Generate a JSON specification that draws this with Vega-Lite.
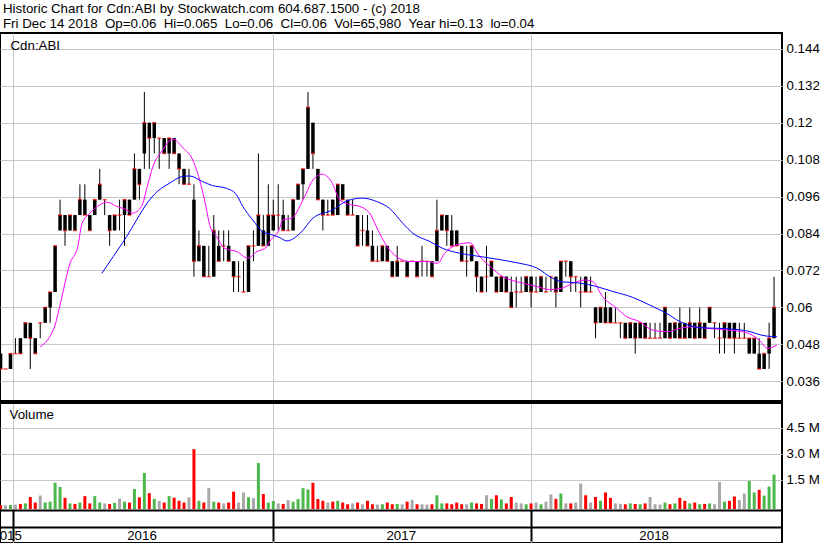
{
  "$schema": "https://vega.github.io/schema/vega-lite/v6.json",
  "width": 782,
  "height": 510,
  "autosize": {"type": "none"},
  "padding": {"left": 0, "top": 33, "right": 48, "bottom": 0},
  "background": "white",
  "title": {
    "text": ["Historic Chart for Cdn:ABI by Stockwatch.com 604.687.1500 - (c) 2018", "Fri Dec 14 2018 \u00a0Op=0.06 \u00a0Hi=0.065 \u00a0Lo=0.06 \u00a0Cl=0.06 \u00a0Vol=65,980 \u00a0Year hi=0.13 \u00a0lo=0.04"],
    "anchor": "start",
    "frame": "group",
    "font": "Liberation Sans",
    "fontSize": 13.3,
    "fontWeight": "normal",
    "lineHeight": 14.5,
    "color": "black",
    "offset": 3,
    "dx": 3
  },
  "config": {
    "view": {"stroke": "black", "strokeWidth": 2},
    "font": "Liberation Sans",
    "axis": {"labelFont": "Liberation Sans", "labelFontSize": 13.3, "labelColor": "black", "titleFont": "Liberation Sans", "titleFontSize": 13.3, "titleFontWeight": "normal", "titleColor": "black"}
  },
  "datasets": {
    "p": [
      {"d":"2015-12-14","o":0.045,"h":0.05,"l":0.04,"c":0.04,"v":50000},
      {"d":"2015-12-21","o":0.04,"h":0.04,"l":0.04,"c":0.04,"v":40000},
      {"d":"2015-12-28","o":0.04,"h":0.045,"l":0.04,"c":0.045,"v":60000},
      {"d":"2016-01-04","o":0.045,"h":0.05,"l":0.045,"c":0.045,"v":80000},
      {"d":"2016-01-11","o":0.05,"h":0.05,"l":0.045,"c":0.045,"v":120000},
      {"d":"2016-01-18","o":0.05,"h":0.055,"l":0.05,"c":0.055,"v":150000},
      {"d":"2016-01-25","o":0.055,"h":0.055,"l":0.04,"c":0.05,"v":520000},
      {"d":"2016-02-01","o":0.05,"h":0.05,"l":0.045,"c":0.045,"v":200000},
      {"d":"2016-02-08","o":0.055,"h":0.055,"l":0.05,"c":0.055,"v":600000},
      {"d":"2016-02-15","o":0.055,"h":0.06,"l":0.055,"c":0.06,"v":200000},
      {"d":"2016-02-22","o":0.06,"h":0.065,"l":0.055,"c":0.065,"v":250000},
      {"d":"2016-02-29","o":0.065,"h":0.08,"l":0.065,"c":0.08,"v":1340000},
      {"d":"2016-03-07","o":0.085,"h":0.095,"l":0.085,"c":0.09,"v":1100000},
      {"d":"2016-03-14","o":0.09,"h":0.09,"l":0.08,"c":0.085,"v":470000},
      {"d":"2016-03-21","o":0.085,"h":0.09,"l":0.085,"c":0.09,"v":150000},
      {"d":"2016-03-28","o":0.09,"h":0.09,"l":0.085,"c":0.085,"v":120000},
      {"d":"2016-04-04","o":0.09,"h":0.1,"l":0.09,"c":0.095,"v":200000},
      {"d":"2016-04-11","o":0.095,"h":0.1,"l":0.09,"c":0.09,"v":570000},
      {"d":"2016-04-18","o":0.09,"h":0.09,"l":0.085,"c":0.085,"v":150000},
      {"d":"2016-04-25","o":0.09,"h":0.095,"l":0.09,"c":0.095,"v":570000},
      {"d":"2016-05-02","o":0.095,"h":0.105,"l":0.095,"c":0.1,"v":200000},
      {"d":"2016-05-09","o":0.095,"h":0.095,"l":0.09,"c":0.095,"v":150000},
      {"d":"2016-05-16","o":0.09,"h":0.09,"l":0.08,"c":0.085,"v":120000},
      {"d":"2016-05-23","o":0.085,"h":0.09,"l":0.085,"c":0.09,"v":180000},
      {"d":"2016-05-30","o":0.09,"h":0.095,"l":0.085,"c":0.09,"v":430000},
      {"d":"2016-06-06","o":0.09,"h":0.095,"l":0.08,"c":0.095,"v":250000},
      {"d":"2016-06-13","o":0.095,"h":0.095,"l":0.09,"c":0.09,"v":200000},
      {"d":"2016-06-20","o":0.095,"h":0.11,"l":0.095,"c":0.105,"v":980000},
      {"d":"2016-06-27","o":0.105,"h":0.105,"l":0.095,"c":0.1,"v":500000},
      {"d":"2016-07-04","o":0.11,"h":0.13,"l":0.105,"c":0.12,"v":1910000},
      {"d":"2016-07-11","o":0.12,"h":0.12,"l":0.105,"c":0.115,"v":740000},
      {"d":"2016-07-18","o":0.115,"h":0.12,"l":0.11,"c":0.12,"v":410000},
      {"d":"2016-07-25","o":0.115,"h":0.115,"l":0.105,"c":0.115,"v":300000},
      {"d":"2016-08-01","o":0.115,"h":0.115,"l":0.11,"c":0.11,"v":200000},
      {"d":"2016-08-08","o":0.11,"h":0.115,"l":0.105,"c":0.115,"v":570000},
      {"d":"2016-08-15","o":0.115,"h":0.115,"l":0.11,"c":0.11,"v":480000},
      {"d":"2016-08-22","o":0.11,"h":0.11,"l":0.1,"c":0.105,"v":300000},
      {"d":"2016-08-29","o":0.105,"h":0.105,"l":0.1,"c":0.1,"v":200000},
      {"d":"2016-09-05","o":0.1,"h":0.105,"l":0.1,"c":0.1,"v":500000},
      {"d":"2016-09-12","o":0.095,"h":0.1,"l":0.07,"c":0.075,"v":3280000},
      {"d":"2016-09-19","o":0.075,"h":0.085,"l":0.075,"c":0.08,"v":300000},
      {"d":"2016-09-26","o":0.08,"h":0.08,"l":0.07,"c":0.07,"v":200000},
      {"d":"2016-10-03","o":0.07,"h":0.08,"l":0.07,"c":0.07,"v":1030000},
      {"d":"2016-10-10","o":0.07,"h":0.09,"l":0.07,"c":0.085,"v":250000},
      {"d":"2016-10-17","o":0.08,"h":0.085,"l":0.075,"c":0.075,"v":200000},
      {"d":"2016-10-24","o":0.08,"h":0.085,"l":0.075,"c":0.08,"v":150000},
      {"d":"2016-10-31","o":0.08,"h":0.085,"l":0.075,"c":0.075,"v":200000},
      {"d":"2016-11-07","o":0.075,"h":0.075,"l":0.065,"c":0.07,"v":830000},
      {"d":"2016-11-14","o":0.07,"h":0.075,"l":0.065,"c":0.07,"v":200000},
      {"d":"2016-11-21","o":0.065,"h":0.075,"l":0.065,"c":0.065,"v":780000},
      {"d":"2016-11-28","o":0.065,"h":0.08,"l":0.065,"c":0.08,"v":500000},
      {"d":"2016-12-05","o":0.08,"h":0.085,"l":0.075,"c":0.08,"v":450000},
      {"d":"2016-12-12","o":0.08,"h":0.11,"l":0.08,"c":0.09,"v":2480000},
      {"d":"2016-12-19","o":0.085,"h":0.09,"l":0.08,"c":0.08,"v":690000},
      {"d":"2016-12-26","o":0.08,"h":0.1,"l":0.08,"c":0.09,"v":200000},
      {"d":"2017-01-02","o":0.085,"h":0.095,"l":0.085,"c":0.09,"v":290000},
      {"d":"2017-01-09","o":0.09,"h":0.1,"l":0.085,"c":0.09,"v":150000},
      {"d":"2017-01-16","o":0.09,"h":0.095,"l":0.085,"c":0.085,"v":120000},
      {"d":"2017-01-23","o":0.085,"h":0.09,"l":0.085,"c":0.085,"v":340000},
      {"d":"2017-01-30","o":0.085,"h":0.095,"l":0.085,"c":0.095,"v":250000},
      {"d":"2017-02-06","o":0.095,"h":0.1,"l":0.095,"c":0.1,"v":400000},
      {"d":"2017-02-13","o":0.1,"h":0.105,"l":0.095,"c":0.105,"v":1030000},
      {"d":"2017-02-20","o":0.105,"h":0.13,"l":0.105,"c":0.125,"v":950000},
      {"d":"2017-02-27","o":0.12,"h":0.12,"l":0.105,"c":0.11,"v":1340000},
      {"d":"2017-03-06","o":0.105,"h":0.105,"l":0.095,"c":0.095,"v":400000},
      {"d":"2017-03-13","o":0.095,"h":0.095,"l":0.085,"c":0.09,"v":300000},
      {"d":"2017-03-20","o":0.09,"h":0.095,"l":0.09,"c":0.09,"v":200000},
      {"d":"2017-03-27","o":0.095,"h":0.095,"l":0.09,"c":0.09,"v":250000},
      {"d":"2017-04-03","o":0.09,"h":0.1,"l":0.09,"c":0.1,"v":300000},
      {"d":"2017-04-10","o":0.1,"h":0.1,"l":0.095,"c":0.095,"v":200000},
      {"d":"2017-04-17","o":0.095,"h":0.095,"l":0.09,"c":0.09,"v":100000},
      {"d":"2017-04-24","o":0.09,"h":0.095,"l":0.09,"c":0.09,"v":150000},
      {"d":"2017-05-01","o":0.09,"h":0.09,"l":0.08,"c":0.08,"v":200000},
      {"d":"2017-05-08","o":0.085,"h":0.09,"l":0.08,"c":0.085,"v":100000},
      {"d":"2017-05-15","o":0.085,"h":0.09,"l":0.08,"c":0.08,"v":300000},
      {"d":"2017-05-22","o":0.08,"h":0.085,"l":0.075,"c":0.075,"v":100000},
      {"d":"2017-05-29","o":0.075,"h":0.08,"l":0.075,"c":0.075,"v":80000},
      {"d":"2017-06-05","o":0.075,"h":0.08,"l":0.075,"c":0.08,"v":100000},
      {"d":"2017-06-12","o":0.08,"h":0.08,"l":0.075,"c":0.075,"v":200000},
      {"d":"2017-06-19","o":0.075,"h":0.075,"l":0.07,"c":0.07,"v":100000},
      {"d":"2017-06-26","o":0.07,"h":0.08,"l":0.07,"c":0.075,"v":120000},
      {"d":"2017-07-03","o":0.075,"h":0.075,"l":0.075,"c":0.075,"v":100000},
      {"d":"2017-07-10","o":0.075,"h":0.075,"l":0.07,"c":0.07,"v":250000},
      {"d":"2017-07-17","o":0.075,"h":0.075,"l":0.075,"c":0.075,"v":360000},
      {"d":"2017-07-24","o":0.075,"h":0.075,"l":0.07,"c":0.07,"v":100000},
      {"d":"2017-07-31","o":0.075,"h":0.08,"l":0.07,"c":0.075,"v":100000},
      {"d":"2017-08-07","o":0.075,"h":0.075,"l":0.07,"c":0.075,"v":80000},
      {"d":"2017-08-14","o":0.075,"h":0.075,"l":0.07,"c":0.07,"v":100000},
      {"d":"2017-08-21","o":0.075,"h":0.095,"l":0.075,"c":0.085,"v":620000},
      {"d":"2017-08-28","o":0.085,"h":0.09,"l":0.085,"c":0.09,"v":150000},
      {"d":"2017-09-04","o":0.09,"h":0.09,"l":0.08,"c":0.085,"v":150000},
      {"d":"2017-09-11","o":0.085,"h":0.09,"l":0.08,"c":0.08,"v":100000},
      {"d":"2017-09-18","o":0.085,"h":0.085,"l":0.08,"c":0.08,"v":200000},
      {"d":"2017-09-25","o":0.08,"h":0.08,"l":0.075,"c":0.075,"v":100000},
      {"d":"2017-10-02","o":0.075,"h":0.08,"l":0.07,"c":0.075,"v":100000},
      {"d":"2017-10-09","o":0.075,"h":0.08,"l":0.075,"c":0.08,"v":200000},
      {"d":"2017-10-16","o":0.075,"h":0.075,"l":0.065,"c":0.07,"v":150000},
      {"d":"2017-10-23","o":0.07,"h":0.07,"l":0.065,"c":0.065,"v":120000},
      {"d":"2017-10-30","o":0.07,"h":0.08,"l":0.065,"c":0.07,"v":620000},
      {"d":"2017-11-06","o":0.07,"h":0.075,"l":0.07,"c":0.075,"v":410000},
      {"d":"2017-11-13","o":0.07,"h":0.07,"l":0.065,"c":0.065,"v":620000},
      {"d":"2017-11-20","o":0.065,"h":0.07,"l":0.065,"c":0.07,"v":380000},
      {"d":"2017-11-27","o":0.07,"h":0.07,"l":0.065,"c":0.065,"v":150000},
      {"d":"2017-12-04","o":0.065,"h":0.07,"l":0.06,"c":0.06,"v":520000},
      {"d":"2017-12-11","o":0.065,"h":0.07,"l":0.06,"c":0.065,"v":200000},
      {"d":"2017-12-18","o":0.065,"h":0.07,"l":0.065,"c":0.065,"v":150000},
      {"d":"2017-12-25","o":0.065,"h":0.07,"l":0.065,"c":0.07,"v":100000},
      {"d":"2018-01-01","o":0.07,"h":0.07,"l":0.06,"c":0.065,"v":150000},
      {"d":"2018-01-08","o":0.065,"h":0.07,"l":0.065,"c":0.065,"v":200000},
      {"d":"2018-01-15","o":0.065,"h":0.07,"l":0.065,"c":0.07,"v":100000},
      {"d":"2018-01-22","o":0.065,"h":0.07,"l":0.065,"c":0.065,"v":250000},
      {"d":"2018-01-29","o":0.07,"h":0.07,"l":0.065,"c":0.07,"v":670000},
      {"d":"2018-02-05","o":0.07,"h":0.07,"l":0.06,"c":0.065,"v":410000},
      {"d":"2018-02-12","o":0.065,"h":0.075,"l":0.065,"c":0.075,"v":720000},
      {"d":"2018-02-19","o":0.075,"h":0.075,"l":0.07,"c":0.075,"v":150000},
      {"d":"2018-02-26","o":0.075,"h":0.075,"l":0.065,"c":0.07,"v":150000},
      {"d":"2018-03-05","o":0.07,"h":0.07,"l":0.065,"c":0.07,"v":200000},
      {"d":"2018-03-12","o":0.065,"h":0.07,"l":0.06,"c":0.065,"v":1290000},
      {"d":"2018-03-19","o":0.07,"h":0.07,"l":0.065,"c":0.065,"v":620000},
      {"d":"2018-03-26","o":0.065,"h":0.07,"l":0.065,"c":0.065,"v":200000},
      {"d":"2018-04-02","o":0.06,"h":0.06,"l":0.05,"c":0.055,"v":520000},
      {"d":"2018-04-09","o":0.055,"h":0.06,"l":0.055,"c":0.06,"v":300000},
      {"d":"2018-04-16","o":0.06,"h":0.065,"l":0.055,"c":0.055,"v":780000},
      {"d":"2018-04-23","o":0.06,"h":0.06,"l":0.055,"c":0.055,"v":470000},
      {"d":"2018-04-30","o":0.055,"h":0.06,"l":0.055,"c":0.055,"v":150000},
      {"d":"2018-05-07","o":0.055,"h":0.055,"l":0.05,"c":0.055,"v":120000},
      {"d":"2018-05-14","o":0.055,"h":0.055,"l":0.05,"c":0.05,"v":100000},
      {"d":"2018-05-21","o":0.05,"h":0.055,"l":0.05,"c":0.055,"v":150000},
      {"d":"2018-05-28","o":0.055,"h":0.055,"l":0.045,"c":0.05,"v":120000},
      {"d":"2018-06-04","o":0.05,"h":0.055,"l":0.05,"c":0.055,"v":100000},
      {"d":"2018-06-11","o":0.055,"h":0.055,"l":0.05,"c":0.05,"v":150000},
      {"d":"2018-06-18","o":0.05,"h":0.055,"l":0.05,"c":0.05,"v":520000},
      {"d":"2018-06-25","o":0.05,"h":0.055,"l":0.05,"c":0.05,"v":100000},
      {"d":"2018-07-02","o":0.05,"h":0.055,"l":0.05,"c":0.05,"v":80000},
      {"d":"2018-07-09","o":0.05,"h":0.06,"l":0.05,"c":0.06,"v":200000},
      {"d":"2018-07-16","o":0.055,"h":0.055,"l":0.05,"c":0.05,"v":100000},
      {"d":"2018-07-23","o":0.05,"h":0.055,"l":0.05,"c":0.055,"v":150000},
      {"d":"2018-07-30","o":0.055,"h":0.06,"l":0.05,"c":0.05,"v":470000},
      {"d":"2018-08-06","o":0.055,"h":0.055,"l":0.05,"c":0.05,"v":300000},
      {"d":"2018-08-13","o":0.05,"h":0.06,"l":0.05,"c":0.055,"v":150000},
      {"d":"2018-08-20","o":0.055,"h":0.055,"l":0.05,"c":0.05,"v":200000},
      {"d":"2018-08-27","o":0.05,"h":0.06,"l":0.05,"c":0.055,"v":100000},
      {"d":"2018-09-03","o":0.055,"h":0.055,"l":0.05,"c":0.05,"v":120000},
      {"d":"2018-09-10","o":0.055,"h":0.06,"l":0.055,"c":0.06,"v":150000},
      {"d":"2018-09-17","o":0.055,"h":0.055,"l":0.05,"c":0.055,"v":100000},
      {"d":"2018-09-24","o":0.05,"h":0.055,"l":0.045,"c":0.05,"v":1380000},
      {"d":"2018-10-01","o":0.05,"h":0.055,"l":0.045,"c":0.055,"v":250000},
      {"d":"2018-10-08","o":0.055,"h":0.055,"l":0.05,"c":0.05,"v":300000},
      {"d":"2018-10-15","o":0.055,"h":0.055,"l":0.045,"c":0.05,"v":550000},
      {"d":"2018-10-22","o":0.05,"h":0.055,"l":0.05,"c":0.05,"v":350000},
      {"d":"2018-10-29","o":0.05,"h":0.055,"l":0.05,"c":0.05,"v":720000},
      {"d":"2018-11-05","o":0.045,"h":0.05,"l":0.045,"c":0.05,"v":1450000},
      {"d":"2018-11-12","o":0.045,"h":0.05,"l":0.045,"c":0.05,"v":780000},
      {"d":"2018-11-19","o":0.045,"h":0.05,"l":0.04,"c":0.04,"v":930000},
      {"d":"2018-11-26","o":0.04,"h":0.045,"l":0.04,"c":0.045,"v":600000},
      {"d":"2018-12-03","o":0.045,"h":0.055,"l":0.04,"c":0.05,"v":1120000},
      {"d":"2018-12-10","o":0.05,"h":0.07,"l":0.05,"c":0.06,"v":1810000}
    ],
    "ma": [
      {"d":"2016-02-08","s":"s","v":0.0472},{"d":"2016-02-29","s":"s","v":0.0543},{"d":"2016-03-07","s":"s","v":0.0608},
      {"d":"2016-03-21","s":"s","v":0.0743},{"d":"2016-04-01","s":"s","v":0.0797},{"d":"2016-04-07","s":"s","v":0.0873},
      {"d":"2016-04-18","s":"s","v":0.0906},{"d":"2016-05-02","s":"s","v":0.0933},{"d":"2016-05-12","s":"s","v":0.0942},
      {"d":"2016-05-26","s":"s","v":0.0928},{"d":"2016-06-09","s":"s","v":0.0917},{"d":"2016-06-17","s":"s","v":0.0906},
      {"d":"2016-06-30","s":"s","v":0.0928},{"d":"2016-07-08","s":"s","v":0.0992},{"d":"2016-07-16","s":"s","v":0.1057},
      {"d":"2016-07-30","s":"s","v":0.1112},{"d":"2016-08-13","s":"s","v":0.1147},{"d":"2016-08-28","s":"s","v":0.1117},
      {"d":"2016-09-09","s":"s","v":0.1085},{"d":"2016-09-20","s":"s","v":0.1014},{"d":"2016-09-27","s":"s","v":0.0949},
      {"d":"2016-10-05","s":"s","v":0.0862},{"d":"2016-10-14","s":"s","v":0.083},{"d":"2016-10-25","s":"s","v":0.0792},
      {"d":"2016-11-12","s":"s","v":0.0781},{"d":"2016-11-27","s":"s","v":0.076},{"d":"2016-12-10","s":"s","v":0.0781},
      {"d":"2016-12-24","s":"s","v":0.0797},{"d":"2016-12-28","s":"s","v":0.0814},{"d":"2017-01-11","s":"s","v":0.0857},
      {"d":"2017-01-15","s":"s","v":0.0884},{"d":"2017-01-28","s":"s","v":0.089},{"d":"2017-02-13","s":"s","v":0.0949},
      {"d":"2017-02-27","s":"s","v":0.1014},{"d":"2017-03-12","s":"s","v":0.1033},{"d":"2017-03-25","s":"s","v":0.1009},
      {"d":"2017-04-06","s":"s","v":0.0949},{"d":"2017-04-17","s":"s","v":0.0936},{"d":"2017-05-04","s":"s","v":0.0928},
      {"d":"2017-05-18","s":"s","v":0.0906},{"d":"2017-06-01","s":"s","v":0.0841},{"d":"2017-06-12","s":"s","v":0.0797},
      {"d":"2017-06-25","s":"s","v":0.0765},{"d":"2017-07-14","s":"s","v":0.0749},{"d":"2017-08-07","s":"s","v":0.0749},
      {"d":"2017-08-22","s":"s","v":0.0743},{"d":"2017-09-01","s":"s","v":0.0776},{"d":"2017-09-18","s":"s","v":0.0803},
      {"d":"2017-10-07","s":"s","v":0.081},{"d":"2017-10-17","s":"s","v":0.0776},{"d":"2017-11-04","s":"s","v":0.0733},
      {"d":"2017-11-22","s":"s","v":0.07},{"d":"2017-12-20","s":"s","v":0.0679},{"d":"2018-01-09","s":"s","v":0.0668},
      {"d":"2018-01-27","s":"s","v":0.0658},{"d":"2018-02-13","s":"s","v":0.0662},{"d":"2018-03-01","s":"s","v":0.0679},
      {"d":"2018-03-18","s":"s","v":0.0689},{"d":"2018-03-29","s":"s","v":0.0684},{"d":"2018-04-12","s":"s","v":0.0635},
      {"d":"2018-05-02","s":"s","v":0.0597},{"d":"2018-05-16","s":"s","v":0.057},{"d":"2018-06-03","s":"s","v":0.0554},
      {"d":"2018-06-21","s":"s","v":0.0527},{"d":"2018-07-12","s":"s","v":0.0521},{"d":"2018-07-30","s":"s","v":0.0532},
      {"d":"2018-08-17","s":"s","v":0.0537},{"d":"2018-09-06","s":"s","v":0.0532},{"d":"2018-10-04","s":"s","v":0.0527},
      {"d":"2018-11-01","s":"s","v":0.0518},{"d":"2018-11-19","s":"s","v":0.0494},{"d":"2018-12-01","s":"s","v":0.0467},
      {"d":"2018-12-14","s":"s","v":0.0478},
      {"d":"2016-05-05","s":"l","v":0.0711},{"d":"2016-05-21","s":"l","v":0.0765},{"d":"2016-06-09","s":"l","v":0.083},
      {"d":"2016-06-23","s":"l","v":0.0884},{"d":"2016-07-08","s":"l","v":0.0939},{"d":"2016-07-22","s":"l","v":0.0976},
      {"d":"2016-08-09","s":"l","v":0.1004},{"d":"2016-08-26","s":"l","v":0.1025},{"d":"2016-09-06","s":"l","v":0.1027},
      {"d":"2016-09-24","s":"l","v":0.1009},{"d":"2016-10-08","s":"l","v":0.0996},{"d":"2016-10-28","s":"l","v":0.0987},
      {"d":"2016-11-11","s":"l","v":0.0966},{"d":"2016-11-20","s":"l","v":0.0928},{"d":"2016-12-04","s":"l","v":0.0884},
      {"d":"2016-12-18","s":"l","v":0.0846},{"d":"2016-12-28","s":"l","v":0.0838},{"d":"2017-01-11","s":"l","v":0.0827},
      {"d":"2017-01-21","s":"l","v":0.0816},{"d":"2017-02-09","s":"l","v":0.0841},{"d":"2017-02-27","s":"l","v":0.089},
      {"d":"2017-03-27","s":"l","v":0.0917},{"d":"2017-04-17","s":"l","v":0.0947},{"d":"2017-05-08","s":"l","v":0.0955},
      {"d":"2017-05-28","s":"l","v":0.0944},{"d":"2017-06-15","s":"l","v":0.0922},{"d":"2017-07-04","s":"l","v":0.0873},
      {"d":"2017-07-18","s":"l","v":0.0841},{"d":"2017-08-11","s":"l","v":0.0814},{"d":"2017-08-29","s":"l","v":0.0792},
      {"d":"2017-09-22","s":"l","v":0.0776},{"d":"2017-10-16","s":"l","v":0.0767},{"d":"2017-11-13","s":"l","v":0.0757},
      {"d":"2017-12-12","s":"l","v":0.0745},{"d":"2018-01-09","s":"l","v":0.0728},{"d":"2018-01-31","s":"l","v":0.0695},
      {"d":"2018-02-14","s":"l","v":0.0683},{"d":"2018-03-11","s":"l","v":0.0679},{"d":"2018-04-03","s":"l","v":0.0668},
      {"d":"2018-04-26","s":"l","v":0.0652},{"d":"2018-05-24","s":"l","v":0.0633},{"d":"2018-06-17","s":"l","v":0.0608},
      {"d":"2018-07-11","s":"l","v":0.0581},{"d":"2018-07-30","s":"l","v":0.0554},{"d":"2018-08-27","s":"l","v":0.0534},
      {"d":"2018-09-24","s":"l","v":0.0532},{"d":"2018-11-01","s":"l","v":0.0524},{"d":"2018-11-29","s":"l","v":0.0507},
      {"d":"2018-12-14","s":"l","v":0.0505}
    ]
  },
  "layer": [
    {
      "data": {"name": "p"},
      "layer": [
        {
          "mark": {"type": "rule", "color": "black", "strokeWidth": 1},
          "encoding": {
            "x": {"field": "d", "type": "temporal", "title": null,
              "scale": {"type": "utc", "padding": 0, "domain": [{"year": 2015, "month": 12, "date": 13, "hours": 5, "utc": true}, {"year": 2018, "month": 12, "date": 21, "hours": 5, "utc": true}]},
              "axis": {"orient": "bottom", "offset": -33, "values": [{"year": 2016, "month": 1, "date": 1, "utc": true}, {"year": 2017, "month": 1, "date": 1, "utc": true}, {"year": 2018, "month": 1, "date": 1, "utc": true}],
                "grid": true, "gridColor": "#c8c8c8", "gridWidth": 1, "labels": false, "ticks": true, "tickSize": 31, "tickColor": "black", "tickWidth": 2,
                "domain": true, "domainColor": "black", "domainWidth": 2, "title": null}},
            "y": {"field": "l", "type": "quantitative", "title": "Cdn:ABI",
              "scale": {"domain": [-0.01653, 0.14914], "zero": false, "nice": false},
              "axis": {"orient": "right", "values": [0.036, 0.042, 0.048, 0.054, 0.06, 0.066, 0.072, 0.078, 0.084, 0.09, 0.096, 0.102, 0.108, 0.114, 0.12, 0.126, 0.132, 0.138, 0.144],
                "format": ".3~f", "grid": true, "gridColor": "#c8c8c8", "gridWidth": 1, "ticks": false, "domain": false, "labelPadding": 4, "labelOverlap": false, "labelFlush": false,
                "title": "Cdn:ABI", "titleAngle": 0, "titleX": -772, "titleY": 16, "titleAlign": "left", "titleBaseline": "alphabetic"}},
            "y2": {"field": "h"}
          }
        },
        {
          "mark": {"type": "bar", "color": "black", "width": 3.5},
          "encoding": {
            "x": {"field": "d", "type": "temporal"},
            "y": {"field": "o", "type": "quantitative", "title": "Cdn:ABI"},
            "y2": {"field": "c"}
          }
        },
        {
          "mark": {"type": "tick", "color": "#ff0000", "orient": "horizontal", "size": 4, "thickness": 1.5},
          "encoding": {
            "x": {"field": "d", "type": "temporal"},
            "y": {"field": "c", "type": "quantitative", "title": "Cdn:ABI"}
          }
        },
        {
          "data": {"name": "ma"},
          "mark": {"type": "line", "strokeWidth": 1, "interpolate": "monotone"},
          "encoding": {
            "x": {"field": "d", "type": "temporal"},
            "y": {"field": "v", "type": "quantitative", "title": "Cdn:ABI"},
            "color": {"field": "s", "type": "nominal", "scale": {"domain": ["s", "l"], "range": ["#ff00ff", "#0000ff"]}, "legend": null}
          }
        },
        {
          "mark": {"type": "rule", "color": "black", "strokeWidth": 1},
          "encoding": {"y": {"datum": 0.0296}}
        }
      ]
    },
    {
      "data": {"name": "p"},
      "layer": [
        {
          "mark": {"type": "bar", "width": 3},
          "encoding": {
            "x": {"field": "d", "type": "temporal", "title": null,
              "scale": {"type": "utc", "padding": 0, "domain": [{"year": 2015, "month": 12, "date": 13, "hours": 5, "utc": true}, {"year": 2018, "month": 12, "date": 21, "hours": 5, "utc": true}]},
              "axis": {"orient": "bottom", "offset": -16, "values": [{"year": 2015, "month": 12, "date": 22, "hours": 12, "utc": true}, {"year": 2016, "month": 6, "date": 30, "utc": true}, {"year": 2017, "month": 7, "date": 1, "utc": true}, {"year": 2018, "month": 6, "date": 23, "utc": true}],
                "labelExpr": "utcFormat(datum.value, '%Y')", "grid": false, "ticks": false, "domain": true, "domainColor": "black", "domainWidth": 2,
                "labelPadding": 1, "labelFlush": false, "labelOverlap": false, "labelBound": false, "title": null}},
            "y": {"field": "v", "type": "quantitative", "title": "Volume",
              "scale": {"domain": [-2134600, 27288000], "zero": false, "nice": false},
              "axis": {"orient": "right", "values": [1500000, 3000000, 4500000], "labelExpr": "format(datum.value / 1000000, '.1f') + ' M'",
                "grid": true, "gridColor": "#c8c8c8", "gridWidth": 1, "ticks": false, "domain": false, "labelPadding": 4, "labelOverlap": false, "labelFlush": false,
                "title": "Volume", "titleAngle": 0, "titleX": -773, "titleY": 385, "titleAlign": "left", "titleBaseline": "alphabetic"}},
            "y2": {"datum": -173000},
            "color": {"condition": [{"test": "datum.c > datum.o", "value": "#4cb84c"}, {"test": "datum.c < datum.o", "value": "#ff0000"}], "value": "#a8a8a8"}
          }
        },
        {
          "mark": {"type": "rule", "color": "black", "strokeWidth": 1},
          "encoding": {"y": {"datum": 5942000}}
        }
      ]
    }
  ],
  "resolve": {"scale": {"y": "independent"}, "axis": {"y": "independent", "x": "independent"}}
}
